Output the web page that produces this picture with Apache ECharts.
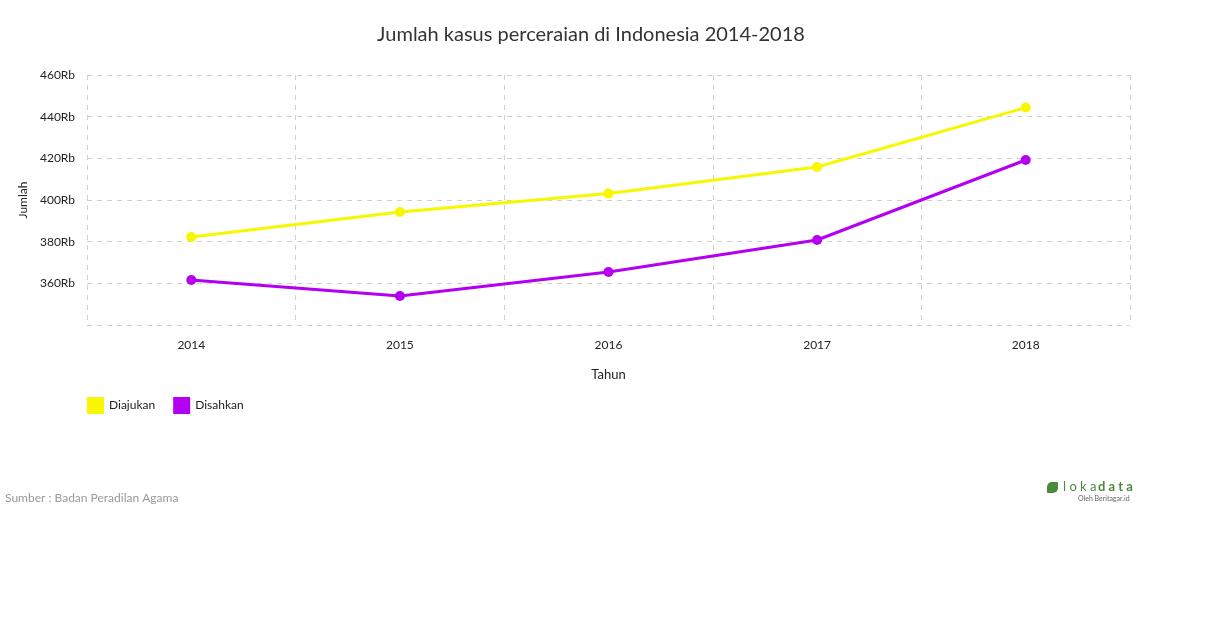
<!DOCTYPE html>
<html>
<head>
<meta charset="utf-8">
<style>
  html, body { margin: 0; padding: 0; background: #fff; }
  #chart { width: 1210px; height: 628px; }
</style>
<script src="https://cdn.jsdelivr.net/npm/echarts@6/dist/echarts.min.js"></script>
</head>
<body>
<div id="chart"></div>
<script>
var years = ['2014', '2015', '2016', '2017', '2018']
var diajukan = [382231, 394246, 403070, 415848, 444358]
var disahkan = [361600, 353900, 365400, 380800, 419200]
var seriesNames = ['Diajukan', 'Disahkan']

var font = 'Lato, "Open Sans", sans-serif'
var dashed = { type: [5, 5], color: '#d0d0d0', width: 1 }

var chart = echarts.init(document.getElementById('chart'))
chart.setOption({
  animation: false,
  textStyle: { fontFamily: font },
  title: {
    text: 'Jumlah kasus perceraian di Indonesia 2014-2018',
    left: 586,
    top: 20,
    textAlign: 'center',
    textStyle: { fontSize: 20, fontWeight: 'normal', color: '#333', fontFamily: font }
  },
  grid: { left: 87, right: 80, top: 75, bottom: 303, containLabel: false },
  legend: {
    data: seriesNames,
    left: 82,
    top: 392,
    icon: 'rect',
    itemWidth: 17,
    itemHeight: 17,
    itemGap: 18,
    textStyle: { fontSize: 12, color: '#222', fontFamily: font }
  },
  xAxis: {
    type: 'category',
    data: years,
    boundaryGap: true,
    name: 'Tahun',
    nameLocation: 'middle',
    nameGap: 43,
    nameTextStyle: { fontSize: 13, color: '#222' },
    axisLine: { show: false },
    axisTick: { show: false },
    axisLabel: { color: '#222', fontSize: 12, margin: 14 },
    splitLine: { show: true, lineStyle: dashed }
  },
  yAxis: {
    type: 'value',
    min: 340000,
    max: 460000,
    interval: 20000,
    name: 'Jumlah',
    nameLocation: 'middle',
    nameGap: 55,
    nameTextStyle: { fontSize: 12, color: '#222' },
    axisLine: { show: false },
    axisTick: { show: false },
    axisLabel: {
      color: '#222',
      fontSize: 12,
      margin: 12,
      formatter: function (v) { return v === 340000 ? '' : (v / 1000) + 'Rb' }
    },
    splitLine: { show: true, lineStyle: dashed }
  },
  series: [{
    name: seriesNames[0],
    type: 'line',
    data: diajukan,
    symbol: 'circle',
    symbolSize: 10,
    color: '#f7f700',
    lineStyle: { width: 3, color: '#f7f700' }
  }, {
    name: seriesNames[1],
    type: 'line',
    data: disahkan,
    symbol: 'circle',
    symbolSize: 10,
    color: '#b400f2',
    lineStyle: { width: 3, color: '#b400f2' }
  }],
  graphic: [{
    type: 'text',
    left: 5,
    top: 492,
    style: { text: 'Sumber : Badan Peradilan Agama', fontSize: 12, fill: '#999', fontFamily: font }
  }, {
    type: 'rect',
    left: 1047,
    top: 482,
    shape: { width: 11, height: 11, r: [5, 1, 5, 1] },
    style: { fill: '#4a8a3c' }
  }, {
    type: 'text',
    left: 1063,
    top: 480,
    style: { text: 'l o k a', fontSize: 13, fill: '#4a8a3c', fontFamily: font }
  }, {
    type: 'text',
    left: 1098,
    top: 480,
    style: { text: 'd a t a', fontSize: 13, fontWeight: 'bold', fill: '#4a8a3c', fontFamily: font }
  }, {
    type: 'text',
    left: 1078,
    top: 495,
    style: { text: 'Oleh Beritagar.id', fontSize: 7, fill: '#666', fontFamily: font }
  }]
})
</script>
</body>
</html>
